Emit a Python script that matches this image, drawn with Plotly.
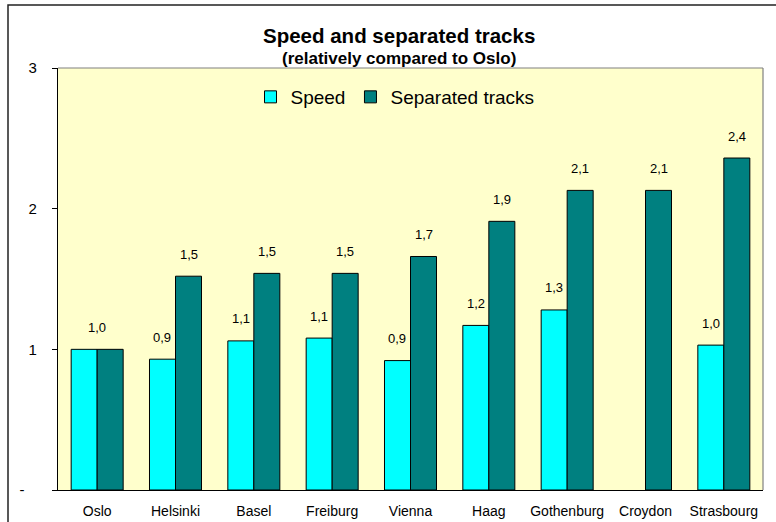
import plotly.graph_objects as go

# Values are relative to Oslo (= 1.0)
cities = ["Oslo", "Helsinki", "Basel", "Freiburg", "Vienna", "Haag",
          "Gothenburg", "Croydon", "Strasbourg"]
speed = [1.00, 0.93, 1.06, 1.08, 0.92, 1.17, 1.28, None, 1.03]
separated = [1.00, 1.52, 1.54, 1.54, 1.66, 1.91, 2.13, 2.13, 2.36]

y_tick_vals = [0, 1, 2, 3]
y_tick_text = ["-\u00a0\u00a0\u00a0", "1", "2", "3"]

FONT = "Arial, Liberation Sans, sans-serif"
SPEED_COLOR = "#00FFFF"
SEP_COLOR = "#008080"
PLOT_BG = "#FFFFCC"

# Layout geometry (pixels)
W, H = 776, 522
M_L, M_R, M_T, M_B = 58, 13, 68, 32
plot_w = W - M_L - M_R
plot_h = H - M_T - M_B
BARGAP = 0.336
bar_px = plot_w / len(cities) * (1 - BARGAP) / 2

fig = go.Figure()
fig.add_trace(go.Bar(
    name="Speed", x=cities, y=speed,
    marker=dict(color=SPEED_COLOR, line=dict(color="#000000", width=1)),
))
fig.add_trace(go.Bar(
    name="Separated tracks", x=cities, y=separated,
    marker=dict(color=SEP_COLOR, line=dict(color="#000000", width=1)),
))


def fmt(v):
    return f"{v:.1f}".replace(".", ",")


# Value labels above the bars (one shared label when both bars are equal)
annotations = []
for city, s, p in zip(cities, speed, separated):
    if s is not None and p is not None and abs(s - p) < 1e-9:
        annotations.append(dict(x=city, y=p, text=fmt(p), xshift=0))
        continue
    if s is not None:
        annotations.append(dict(x=city, y=s, text=fmt(s), xshift=-bar_px / 2))
    if p is not None:
        annotations.append(dict(x=city, y=p, text=fmt(p), xshift=bar_px / 2))
for a in annotations:
    a.update(xref="x", yref="y", showarrow=False, yshift=22,
             yanchor="middle", xanchor="center",
             font=dict(family=FONT, size=13, color="#000000"))

# Title and subtitle
title_x = (398.5 - M_L) / plot_w
annotations.append(dict(
    text="<b>Speed and separated tracks</b>", xref="paper", yref="paper",
    x=title_x, y=(H - M_B - 35) / plot_h, xanchor="center", yanchor="middle",
    showarrow=False, font=dict(family=FONT, size=20.5, color="#000000")))
annotations.append(dict(
    text="<b>(relatively compared to Oslo)</b>", xref="paper", yref="paper",
    x=title_x, y=(H - M_B - 58) / plot_h, xanchor="center", yanchor="middle",
    showarrow=False, font=dict(family=FONT, size=17, color="#000000")))

shapes = [
    # outer chart frame
    dict(type="rect", xref="paper", yref="paper",
         x0=(8 - M_L) / plot_w, x1=(W + 20 - M_L) / plot_w,
         y0=(H - M_B - (H + 20)) / plot_h, y1=(H - M_B - 5) / plot_h,
         line=dict(color="#222222", width=1.5), fillcolor="rgba(0,0,0,0)",
         layer="above"),
    # plot-area border on top and right
    dict(type="line", xref="paper", yref="paper", x0=0, x1=1, y0=1, y1=1,
         line=dict(color="#808080", width=1.2)),
    dict(type="line", xref="paper", yref="paper", x0=1, x1=1, y0=0, y1=1,
         line=dict(color="#808080", width=1.2)),
]

fig.update_layout(
    width=W, height=H,
    margin=dict(l=M_L, r=M_R, t=M_T, b=M_B, pad=0, autoexpand=False),
    paper_bgcolor="#FFFFFF", plot_bgcolor=PLOT_BG,
    barmode="group", bargap=BARGAP, bargroupgap=0,
    font=dict(family=FONT, color="#000000"),
    showlegend=True,
    legend=dict(orientation="h", x=(395 - M_L) / plot_w,
                y=(H - M_B - 97) / plot_h, xanchor="center", yanchor="middle",
                bgcolor="rgba(0,0,0,0)", font=dict(family=FONT, size=19),
                traceorder="normal", itemwidth=30),
    annotations=annotations,
    shapes=shapes,
)
fig.update_xaxes(
    type="category", automargin=False, showgrid=False, showline=True,
    linecolor="#000000", linewidth=1.2, ticks="",
    tickfont=dict(family=FONT, size=14), ticklabelstandoff=8,
)
fig.update_yaxes(
    range=[0, 3], automargin=False, tickvals=y_tick_vals, ticktext=y_tick_text,
    showgrid=False, zeroline=False, showline=True, linecolor="#000000",
    linewidth=1.2, ticks="outside", ticklen=5, tickcolor="#000000",
    tickfont=dict(family=FONT, size=15), ticklabelstandoff=12,
)

fig.write_html("out.html")
